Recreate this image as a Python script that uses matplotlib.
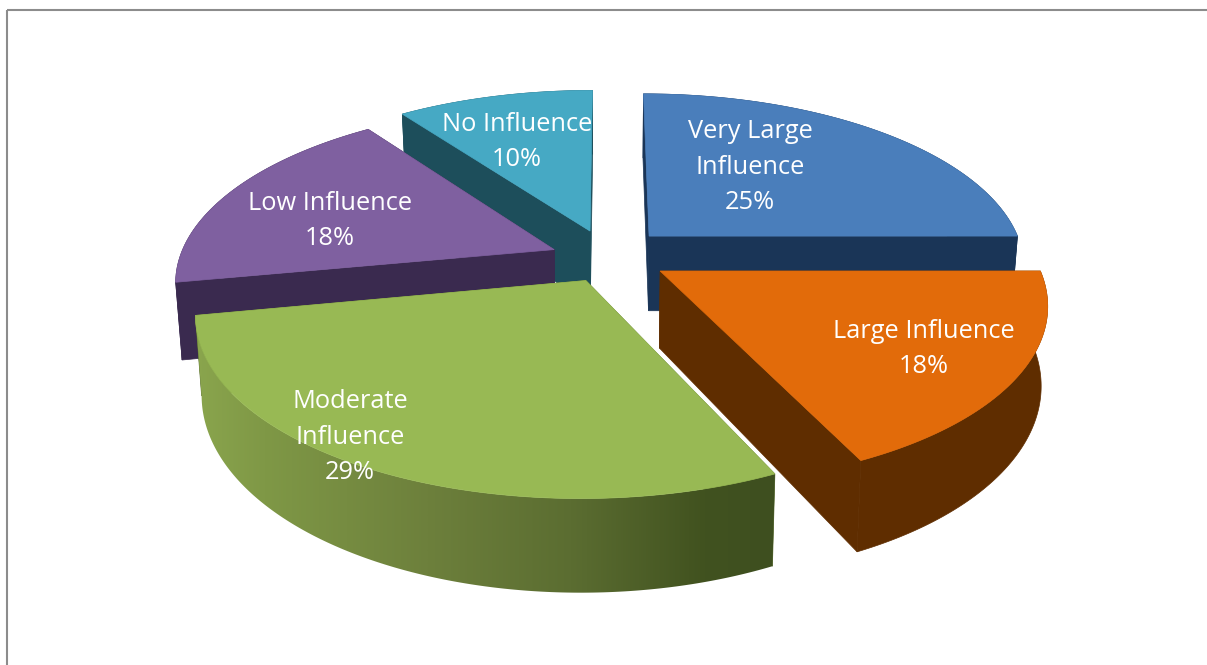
import numpy as np
import matplotlib
matplotlib.use("Agg")
import matplotlib.pyplot as plt
from matplotlib.patches import Polygon
from matplotlib.colors import LinearSegmentedColormap

categories = ["Very Large\nInfluence", "Large Influence", "Moderate\nInfluence", "Low Influence", "No Influence"]
values = [25, 18, 29, 18, 10]

top_colors = ["#4a7ebb", "#e26b0a", "#98b954", "#7f60a0", "#46a9c4"]
side_colors = ["#1a3557", "#5f2d00", "#5a6e2e", "#3a2a4f", "#1d4e5b"]
label_pos = [(750, 167), (924, 349), (350, 437), (330, 221), (517, 142)]
nudge = [(0, -1), (2, 2), (2, 2), (-4, 4), (-3, 0)]
draw_order = [0, 4, 3, 1, 2]
green_wall = [(0.0, "#8aa54d"), (0.12, "#7f9846"), (0.4, "#6d803c"), (0.65, "#5b6d31"), (0.88, "#41521f"), (1.0, "#3e4f20")]

CX, CY, RX, RY, K, DEPTH, EXPLODE, BOTTOM_X = 610, 255, 375, 172, 0.17, 76, 0.15, 0.985

fig = plt.figure(figsize=(12.07, 6.65), dpi=100)
ax = fig.add_axes([0, 0, 1, 1])
ax.axis("off")


def project(X, Y, low=False, shift=(0, 0)):
    X, Y = np.asarray(X, float), np.asarray(Y, float)
    s = 1 / (1 - K * Y)
    x = CX + RX * X * s
    y = CY + RY * Y * s
    if low:
        x = CX + (x - CX) * BOTTOM_X
        y = y + DEPTH * s
    return x + shift[0], y + shift[1]


def ground(t, mid):
    ox, oy = EXPLODE * np.sin(mid), -EXPLODE * np.cos(mid)
    return ox + np.sin(t), oy - np.cos(t), ox, oy


total = sum(values)
edges = np.deg2rad(np.concatenate([[0], np.cumsum(values)]) / total * 360)
wall_cmap = LinearSegmentedColormap.from_list("wall", green_wall)

z = 1
for i in draw_order:
    t0, t1 = edges[i], edges[i + 1]
    mid = (t0 + t1) / 2
    ts = np.linspace(t0, t1, 160)
    X, Y, ox, oy = ground(ts, mid)
    sh = nudge[i]

    # radial cut faces
    for end in (0, -1):
        xs = [ox, X[end]]
        ys = [oy, Y[end]]
        ux, uy = project(xs, ys, shift=sh)
        lx, ly = project(xs, ys, low=True, shift=sh)
        ax.add_patch(Polygon(np.c_[np.r_[ux, lx[::-1]], np.r_[uy, ly[::-1]]],
                             closed=True, fc=side_colors[i], ec=side_colors[i], lw=0.5, zorder=z))
        z += 1

    # outer wall
    ux, uy = project(X, Y, shift=sh)
    lx, ly = project(X, Y, low=True, shift=sh)
    wall = np.c_[np.r_[ux, lx[::-1]], np.r_[uy, ly[::-1]]]
    if i == 2:
        patch = Polygon(wall, closed=True, fc="none", ec="none", zorder=z)
        ax.add_patch(patch)
        x0, x1 = wall[:, 0].min(), wall[:, 0].max()
        y0, y1 = wall[:, 1].min(), wall[:, 1].max()
        im = ax.imshow(np.linspace(0, 1, 512)[None, :], cmap=wall_cmap, aspect="auto",
                       extent=(x0, x1, y1, y0), interpolation="bilinear", zorder=z)
        im.set_clip_path(patch)
    else:
        ax.add_patch(Polygon(wall, closed=True, fc=side_colors[i], ec=side_colors[i], lw=0.5, zorder=z))
    z += 1

    # top face
    ax0, ay0 = project(ox, oy, shift=sh)
    ax.add_patch(Polygon(np.c_[np.r_[ax0, ux], np.r_[ay0, uy]], closed=True,
                         fc=top_colors[i], ec=top_colors[i], lw=0.5, zorder=z))
    z += 1

ax.set_xlim(0, 1207)
ax.set_ylim(665, 0)

for cat, v, (lx_, ly_) in zip(categories, values, label_pos):
    ax.text(lx_, ly_, f"{cat}\n{v}%", color="white", ha="center", va="center",
            family="Open Sans", fontsize=18.3, linespacing=1.55, zorder=z)

# frame of the picture
ax.plot([7, 7], [665, 10], color="#8c8c8c", lw=1.5, solid_capstyle="butt", zorder=z)
ax.plot([7, 1207], [10, 10], color="#8c8c8c", lw=1.5, solid_capstyle="butt", zorder=z)

fig.savefig("out.png", dpi=100, facecolor="white")
